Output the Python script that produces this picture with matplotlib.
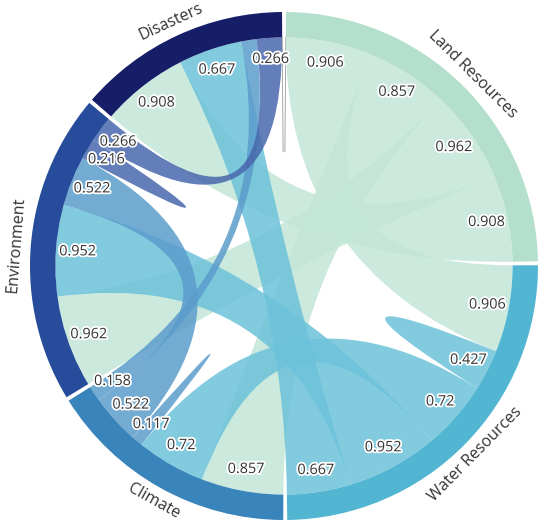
import numpy as np
import matplotlib
matplotlib.use("Agg")
import matplotlib.pyplot as plt
from matplotlib.path import Path
from matplotlib.patches import PathPatch, Wedge
import matplotlib.patheffects as pe

# ---- data ----
groups = ["Land Resources", "Water Resources", "Climate", "Environment", "Disasters"]
land = [0.0, 0.906, 0.857, 0.962, 0.908]
water = [0.906, 0.427, 0.72, 0.952, 0.667]
climate = [0.857, 0.72, 0.117, 0.522, 0.158]
environment = [0.962, 0.952, 0.522, 0.216, 0.266]
disasters = [0.908, 0.667, 0.158, 0.266, 0.0]
hidden_labels = [(4, 2)]  # value label not shown on Disasters side for Climate chord

ring_colors = ["#b4dfcc", "#52b6d2", "#3984bb", "#264c9b", "#161e68"]
chord_colors = ["#c4e6d7", "#6cc2da", "#5b9ccb", "#4868ac", "#2a3580"]

M = np.array([land, water, climate, environment, disasters])
n = len(groups)

fig = plt.figure(figsize=(5.5, 5.31), dpi=100)
ax = fig.add_axes([0, 0, 1, 1])
R_px = 254.0
cx, cy = 284.0, 266.0
ax.set_xlim(-cx / R_px, (550 - cx) / R_px)
ax.set_ylim(-(531 - cy) / R_px, cy / R_px)
ax.set_aspect("equal")
ax.axis("off")

pad = 0.9
r_out, r_in = 1.0, 0.9
sums = M.sum(axis=1)
scale = (360 - n * pad) / sums.sum()

# group angles (clockwise from top)
starts = []
a = 90 - pad / 2
for g in range(n):
    starts.append(a)
    a -= sums[g] * scale + pad

# end angles of each chord (hi, lo)
ends = {}
for g in range(n):
    cur = starts[g]
    for k in range(n):
        w = M[g, k] * scale
        ends[(g, k)] = (cur, cur - w)
        cur -= w

def pt(ang, r=r_in):
    t = np.deg2rad(ang)
    return (r * np.cos(t), r * np.sin(t))

def arc_pts(a0, a1, r=r_in, num=40):
    ts = np.deg2rad(np.linspace(a0, a1, num))
    return list(zip(r * np.cos(ts), r * np.sin(ts)))

# ring
for g in range(n):
    a0 = starts[g]
    a1 = a0 - sums[g] * scale
    ax.add_patch(Wedge((0, 0), r_out, a1, a0, width=r_out - r_in,
                       facecolor=ring_colors[g], edgecolor="none", zorder=3))

# chords
for i in range(n):
    for j in range(i, n):
        v = M[i, j]
        s_hi, s_lo = ends[(i, j)]
        if i == j:
            if v <= 0:
                p0 = pt(s_hi)
                ax.plot([p0[0], p0[0] * 0.5], [p0[1], p0[1] * 0.5],
                        color="#9a9a9a", lw=0.6, zorder=2)
                continue
            verts = arc_pts(s_hi, s_lo)
            codes = [Path.MOVETO] + [Path.LINETO] * (len(verts) - 1)
            verts += [(0, 0), pt(s_hi)]
            codes += [Path.CURVE3, Path.CURVE3]
        else:
            if v <= 0:
                continue
            t_hi, t_lo = ends[(j, i)]
            verts = arc_pts(s_hi, s_lo)
            codes = [Path.MOVETO] + [Path.LINETO] * (len(verts) - 1)
            verts += [(0, 0), pt(t_hi)]
            codes += [Path.CURVE3, Path.CURVE3]
            av = arc_pts(t_hi, t_lo)
            verts += av
            codes += [Path.LINETO] * len(av)
            verts += [(0, 0), pt(s_hi)]
            codes += [Path.CURVE3, Path.CURVE3]
        verts.append((0, 0))
        codes.append(Path.CLOSEPOLY)
        ax.add_patch(PathPatch(Path(verts, codes), facecolor=chord_colors[i],
                               edgecolor="none", alpha=0.85, zorder=2))

# value labels
halo = [pe.withStroke(linewidth=2.6, foreground="white")]
for g in range(n):
    for k in range(n):
        v = M[g, k]
        if v <= 0 or (g, k) in hidden_labels:
            continue
        hi, lo = ends[(g, k)]
        x, y = pt((hi + lo) / 2, 0.815)
        ax.text(x, y, f"{v:g}", ha="center", va="center", fontsize=10.4,
                family="Open Sans", color="#333333", path_effects=halo, zorder=5)

# group labels
for g in range(n):
    a0 = starts[g]
    a1 = a0 - sums[g] * scale
    mid = (a0 + a1) / 2
    x, y = pt(mid, 1.058)
    m = ((mid + 180) % 360) - 180
    rot = mid - 90 if m >= 0 else mid + 90
    ax.text(x, y, groups[g], ha="center", va="center", rotation=rot,
            rotation_mode="anchor", fontsize=11.5, family="Open Sans",
            color="#333333", zorder=5)

fig.savefig("out.png", dpi=100)
